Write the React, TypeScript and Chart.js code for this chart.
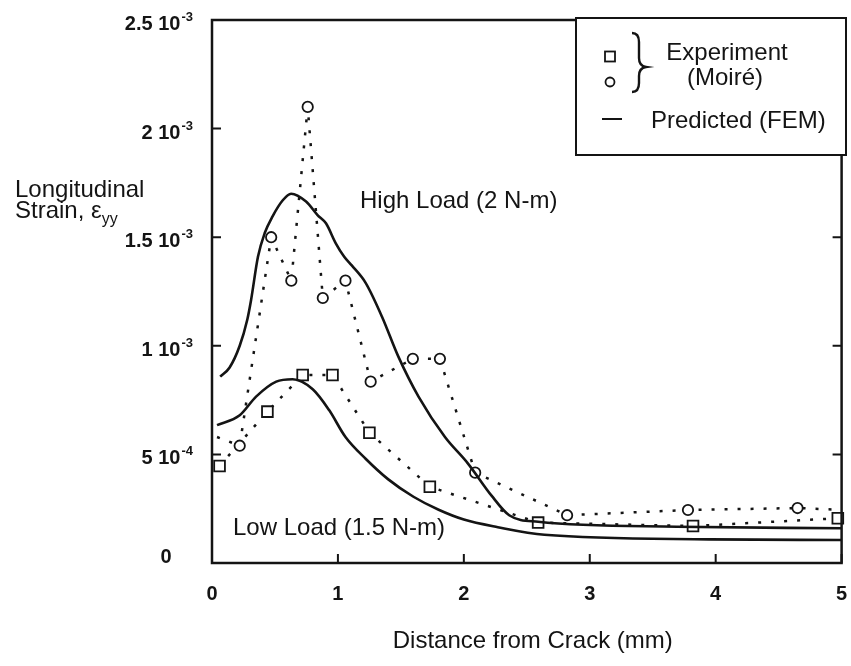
import React, { useEffect, useRef } from "react";
import { Chart, registerables } from "chart.js";
Chart.register(...registerables);

// ---- data (strain values in units of 1e-3) ----
const UNIT = 1e-3;

const highFemX = [0.065, 0.14, 0.22, 0.28, 0.31, 0.365, 0.418, 0.48, 0.562, 0.628, 0.747, 0.838, 0.905, 0.983, 1.05, 1.11, 1.22, 1.35, 1.48, 1.64, 1.85, 2.03, 2.22, 2.36, 2.59, 3.69, 5.0];
const highFemY = [0.858, 0.9, 1.0, 1.12, 1.21, 1.41, 1.518, 1.595, 1.67, 1.70, 1.664, 1.602, 1.564, 1.472, 1.41, 1.37, 1.29, 1.134, 0.95, 0.766, 0.58, 0.46, 0.31, 0.22, 0.19, 0.167, 0.16];

const lowFemX = [0.04, 0.22, 0.35, 0.51, 0.64, 0.8, 0.93, 1.06, 1.22, 1.4, 1.6, 1.8, 2.0, 2.27, 2.64, 3.95, 5.0];
const lowFemY = [0.635, 0.68, 0.766, 0.835, 0.846, 0.8, 0.704, 0.58, 0.48, 0.385, 0.305, 0.245, 0.2, 0.165, 0.13, 0.109, 0.106];

const highExpX = [0.04, 0.22, 0.47, 0.63, 0.76, 0.88, 1.06, 1.26, 1.595, 1.81, 2.09, 2.82, 3.78, 4.65, 5.0];
const highExpY = [0.58, 0.54, 1.5, 1.3, 2.1, 1.22, 1.3, 0.835, 0.94, 0.94, 0.416, 0.22, 0.244, 0.253, 0.245];
const highExpMarker = [false, true, true, true, true, true, true, true, true, true, true, true, true, true, false];

const lowExpX = [0.06, 0.44, 0.72, 0.957, 1.25, 1.73, 2.59, 3.82, 4.97];
const lowExpY = [0.447, 0.697, 0.866, 0.866, 0.6, 0.351, 0.186, 0.17, 0.206];

const xTickValues = [0, 1, 2, 3, 4, 5];
const yTickValues = [0, 5e-4, 1e-3, 1.5e-3, 2e-3, 2.5e-3];
const yTickMantissa = ["0", "5", "1", "1.5", "2", "2.5"];
const yTickExponent = ["", "-4", "-3", "-3", "-3", "-3"];

const FONT = '"Liberation Sans", Arial, Helvetica, sans-serif';
const INK = "#141414";

const pts = (xs: number[], ys: number[]) => xs.map((x, i) => ({ x, y: ys[i] * UNIT }));

const decor = {
  id: "decor",
  afterDraw(chart: any) {
    const { ctx, chartArea: a, scales } = chart;
    const xs = scales.x;
    const ys = scales.y;
    ctx.save();
    ctx.strokeStyle = INK;
    ctx.fillStyle = INK;
    ctx.lineCap = "butt";

    // frame
    ctx.lineWidth = 2.5;
    ctx.strokeRect(a.left, a.top, a.right - a.left, a.bottom - a.top);

    // inward ticks
    ctx.lineWidth = 2;
    ctx.beginPath();
    xTickValues.forEach((v) => {
      const px = xs.getPixelForValue(v);
      ctx.moveTo(px, a.bottom);
      ctx.lineTo(px, a.bottom - 9);
    });
    yTickValues.forEach((v) => {
      const py = ys.getPixelForValue(v);
      ctx.moveTo(a.left, py);
      ctx.lineTo(a.left + 9, py);
      ctx.moveTo(a.right, py);
      ctx.lineTo(a.right - 9, py);
    });
    ctx.stroke();

    // x tick labels
    ctx.font = `bold 20px ${FONT}`;
    ctx.textAlign = "center";
    ctx.textBaseline = "alphabetic";
    xTickValues.forEach((v) => {
      ctx.fillText(String(v), xs.getPixelForValue(v), a.bottom + 37);
    });

    // y tick labels with superscript exponent
    yTickValues.forEach((v, i) => {
      const py = ys.getPixelForValue(v);
      if (!yTickExponent[i]) {
        ctx.font = `bold 20px ${FONT}`;
        ctx.textAlign = "center";
        ctx.textBaseline = "alphabetic";
        ctx.fillText(yTickMantissa[i], a.left - 46, py);
        return;
      }
      const right = a.left - 19;
      ctx.font = `bold 13px ${FONT}`;
      const ew = ctx.measureText(yTickExponent[i]).width;
      ctx.textAlign = "left";
      ctx.textBaseline = "alphabetic";
      const base = py + 10;
      ctx.fillText(yTickExponent[i], right - ew, base - 9);
      ctx.font = `bold 20px ${FONT}`;
      ctx.textAlign = "right";
      ctx.fillText(yTickMantissa[i] + " 10", right - ew - 1, base);
    });

    // axis titles
    ctx.font = `24px ${FONT}`;
    ctx.textAlign = "center";
    ctx.fillText("Distance from Crack (mm)", (a.left + a.right) / 2 + 6, a.bottom + 85);

    ctx.textAlign = "left";
    ctx.fillText("Longitudinal", 15, 197);
    const s1 = "Strain, ε";
    ctx.fillText(s1, 15, 218);
    const w1 = ctx.measureText(s1).width;
    ctx.font = `16px ${FONT}`;
    ctx.fillText("yy", 15 + w1, 224);

    // curve annotations
    ctx.font = `24px ${FONT}`;
    ctx.fillText("High Load (2 N-m)", 360, 208);
    ctx.fillText("Low Load (1.5 N-m)", 233, 535);

    // legend box
    const lx = 576, ly = 18, lw = 270, lh = 137;
    ctx.fillStyle = "#ffffff";
    ctx.fillRect(lx, ly, lw, lh);
    ctx.fillStyle = INK;
    ctx.lineWidth = 2;
    ctx.strokeRect(lx, ly, lw, lh);

    // square marker
    ctx.lineWidth = 1.8;
    ctx.strokeRect(605, 51.5, 10, 10);
    // circle marker
    ctx.beginPath();
    ctx.arc(610, 82, 4.5, 0, Math.PI * 2);
    ctx.stroke();

    // brace
    ctx.lineWidth = 2.4;
    ctx.beginPath();
    ctx.moveTo(632, 33);
    ctx.quadraticCurveTo(639, 33, 639, 42);
    ctx.lineTo(639, 58);
    ctx.quadraticCurveTo(639, 66, 646, 67);
    ctx.quadraticCurveTo(639, 68, 639, 76);
    ctx.lineTo(639, 83);
    ctx.quadraticCurveTo(639, 92, 632, 92);
    ctx.stroke();

    ctx.font = `24px ${FONT}`;
    ctx.textAlign = "center";
    ctx.fillText("Experiment", 727, 60);
    ctx.fillText("(Moiré)", 725, 85);

    // FEM line sample
    ctx.lineWidth = 2;
    ctx.beginPath();
    ctx.moveTo(602, 119);
    ctx.lineTo(622, 119);
    ctx.stroke();
    ctx.textAlign = "left";
    ctx.fillText("Predicted (FEM)", 651, 128);

    ctx.restore();
  },
};

export default function App() {
  const ref = useRef<HTMLCanvasElement | null>(null);

  useEffect(() => {
    if (!ref.current) return;
    const chart = new Chart(ref.current, {
      type: "scatter",
      data: {
        datasets: [
          {
            label: "High load FEM",
            data: pts(highFemX, highFemY),
            showLine: true,
            borderColor: INK,
            borderWidth: 2.6,
            pointRadius: 0,
            cubicInterpolationMode: "monotone",
          },
          {
            label: "Low load FEM",
            data: pts(lowFemX, lowFemY),
            showLine: true,
            borderColor: INK,
            borderWidth: 2.6,
            pointRadius: 0,
            cubicInterpolationMode: "monotone",
          },
          {
            label: "High load experiment",
            data: pts(highExpX, highExpY),
            showLine: true,
            borderColor: INK,
            borderWidth: 2.5,
            borderDash: [3, 10],
            pointStyle: "circle",
            pointRadius: (c: any) => (highExpMarker[c.dataIndex] ? 5.2 : 0),
            pointBorderWidth: 1.8,
            pointBorderColor: INK,
            pointBackgroundColor: "#ffffff",
            clip: false,
          },
          {
            label: "Low load experiment",
            data: pts(lowExpX, lowExpY),
            showLine: true,
            borderColor: INK,
            borderWidth: 2.5,
            borderDash: [3, 10],
            pointStyle: "rect",
            pointRadius: 7.6,
            pointBorderWidth: 1.8,
            pointBorderColor: INK,
            pointBackgroundColor: "#ffffff",
            clip: false,
          },
        ],
      },
      options: {
        animation: false,
        responsive: false,
        devicePixelRatio: 1,
        layout: { padding: { top: 20, right: 5, left: 0, bottom: 0 } },
        plugins: { legend: { display: false }, tooltip: { enabled: false } },
        scales: {
          x: {
            type: "linear",
            min: 0,
            max: 5,
            ticks: { display: false },
            grid: { display: false },
            border: { display: false },
            afterFit: (s: any) => {
              s.height = 103;
            },
          },
          y: {
            type: "linear",
            min: 0,
            max: 2.5e-3,
            ticks: { display: false },
            grid: { display: false },
            border: { display: false },
            afterFit: (s: any) => {
              s.width = 212;
            },
          },
        },
      },
      plugins: [decor],
    } as any);
    return () => chart.destroy();
  }, []);

  return (
    <div style={{ position: "fixed", left: 0, top: 0, width: 851, height: 666, background: "#fff" }}>
      <canvas ref={ref} width={851} height={666} />
    </div>
  );
}
